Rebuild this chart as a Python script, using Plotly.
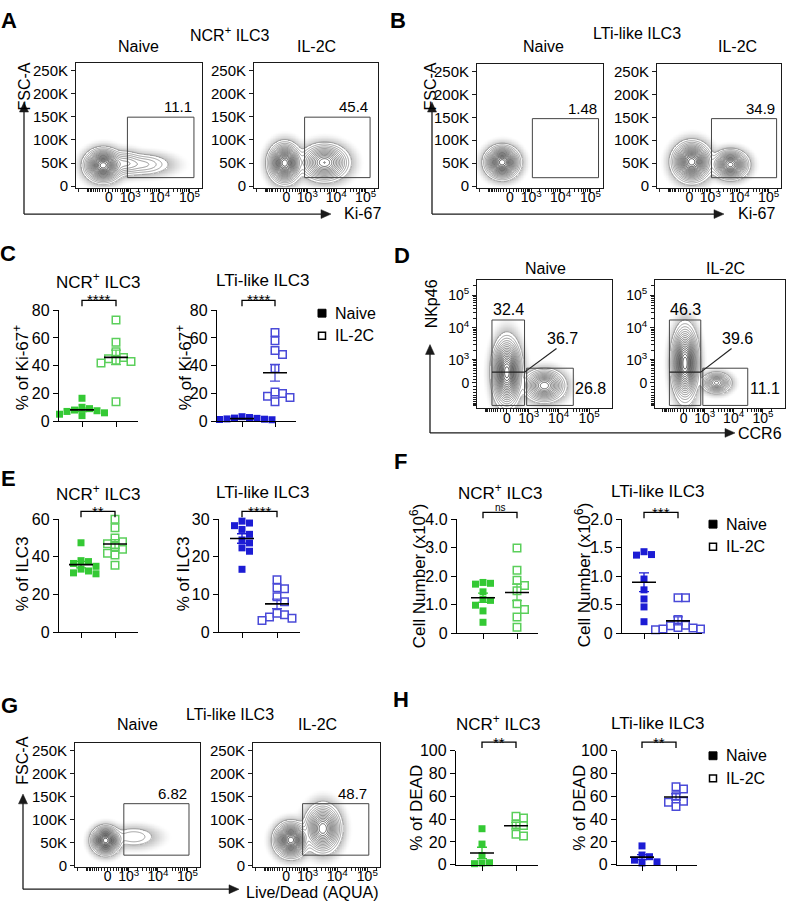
import numpy as np
import plotly.graph_objects as go

W, H = 787, 910
FONT = "Arial, Liberation Sans, sans-serif"

GREEN = '#34c934'
GREEN_OPEN = '#5bcf5b'
BLUE = '#1c1cd4'
BLUE_OPEN = '#4a4ad8'
INK = '#1a1a1a'

groups = ['Naive', 'IL-2C']

# C: % of Ki-67+
ki67_ncr_naive = [16.5, 10, 9, 8, 7.5, 7, 6, 5, 4]
ki67_ncr_il2c = [73, 57, 50, 46, 45, 44, 43, 42, 14]
ki67_lti_naive = [3.2, 2.6, 2.2, 2.0, 1.6, 1.4, 1.2, 1.0, 0.8]
ki67_lti_il2c = [64, 58, 51, 48, 38, 21, 20, 18, 17, 14]

# E: % of ILC3
pct_ncr_naive = [47.5, 38, 37.5, 36.5, 35, 33.5, 32.5, 31.5, 31]
pct_ncr_il2c = [60, 55.5, 50, 48, 47, 45.5, 44, 42, 41, 35.5]
pct_lti_naive = [29.5, 29, 28.3, 27.3, 26, 24.5, 23.7, 22.4, 21.5, 16.7]
pct_lti_il2c = [13.9, 11.8, 11.5, 9.4, 8.1, 5.0, 4.6, 4.0, 3.7, 3.1]

# F: cell number (x10^6)
num_ncr_naive = [1.78, 1.75, 1.72, 1.45, 1.18, 1.15, 0.98, 0.78, 0.38]
num_ncr_il2c = [2.99, 2.21, 1.86, 1.67, 1.49, 1.03, 0.83, 0.57, 0.21]
num_lti_naive = [1.43, 1.37, 1.38, 0.95, 0.76, 0.60, 0.46, 0.20]
num_lti_il2c = [0.62, 0.62, 0.24, 0.14, 0.13, 0.10, 0.09, 0.07, 0.06, 0.07]

# H: % of DEAD
dead_ncr_naive = [31.6, 18.1, 8.0, 1.7, 1.4, 0.9]
dead_ncr_il2c = [42.5, 41, 35.3, 34.5, 26.7, 25.3]
dead_lti_naive = [16.5, 8.5, 7, 4, 2.5, 1.5]
dead_lti_il2c = [68.4, 66.4, 60.6, 55.7, 54.9, 51.1]

# flow populations:
# (x marker median, y median, x spread (biex units), y spread, fraction of events)
ki67_ncr_naive_pops = [(-180, 45000, 0.25, 14000, 0.84), (650, 50000, 0.25, 12000, 0.07),
                       (2600, 47000, 0.45, 11000, 0.09)]
ki67_ncr_il2c_pops = [(-50, 50000, 0.22, 17000, 0.55), (3970, 51000, 0.33, 16000, 0.45)]
ki67_lti_naive_pops = [(-250, 52000, 0.23, 14000, 0.985)]
ki67_lti_il2c_pops = [(75, 53000, 0.26, 17000, 0.65), (5000, 47000, 0.24, 12500, 0.35)]
ccr6_naive_pops = [(0, 330, 0.19, 0.42, 0.70), (3400, -80, 0.27, 0.20, 0.27)]
ccr6_il2c_pops = [(40, 760, 0.18, 0.45, 0.86), (2600, 0, 0.20, 0.13, 0.11)]
aqua_naive_pops = [(-60, 54000, 0.19, 12000, 0.91), (1500, 62000, 0.38, 11000, 0.07)]
aqua_il2c_pops = [(150, 55000, 0.22, 15000, 0.5), (3300, 80000, 0.24, 21000, 0.5)]

# gate frequencies
ki67_ncr_freq = ['11.1', '45.4']
ki67_lti_freq = ['1.48', '34.9']
ccr6_freq = [('32.4', '36.7', '26.8'), ('46.3', '39.6', '11.1')]
aqua_freq = ['6.82', '48.7']

fsc_ticks = [0, 50000, 100000, 150000, 200000, 250000]
fsc_ticktext = ['0', '50K', '100K', '150K', '200K', '250K']
log_ticks = [0, 1e3, 1e4, 1e5]
log_ticktext = ['0', '10<sup>3</sup>', '10<sup>4</sup>', '10<sup>5</sup>']


def px(x):
    return x / W


def py(y):
    return 1 - y / H


COF = 400.0


def biex(v):
    return np.arcsinh(np.asarray(v, dtype=float) / COF) / np.log(10)


minor_raw = ([-k * 100 for k in range(1, 10)] + [-1000, -2000] + [k * 100 for k in range(1, 10)]
             + [k * 10 ** e for e in (3, 4) for k in range(2, 10)] + [2e5])

fig = go.Figure()
layout = dict(width=W, height=H, margin=dict(l=0, r=0, t=0, b=0),
              paper_bgcolor='white', plot_bgcolor='white', showlegend=False,
              font=dict(family=FONT, color='black'))
annotations = []
shapes = []


def text(x, y, s, size=16, xanchor='center', yanchor='middle', angle=0, bold=False,
         xref='paper', yref='paper'):
    if xref == 'paper':
        x = px(x)
    if yref == 'paper':
        y = py(y)
    annotations.append(dict(x=x, y=y, xref=xref, yref=yref, text=f'<b>{s}</b>' if bold else s,
                            showarrow=False, xanchor=xanchor, yanchor=yanchor, textangle=angle,
                            font=dict(family=FONT, size=size, color='black')))


def ids(i):
    s = '' if i == 1 else str(i)
    return 'xaxis' + s, 'yaxis' + s, 'x' + s, 'y' + s


def arrow_frame(cx, cy, top, right):
    shapes.append(dict(type='line', xref='paper', yref='paper', x0=px(cx), y0=py(cy),
                       x1=px(cx), y1=py(top + 9), line=dict(color=INK, width=1.3)))
    shapes.append(dict(type='line', xref='paper', yref='paper', x0=px(cx), y0=py(cy),
                       x1=px(right - 9), y1=py(cy), line=dict(color=INK, width=1.3)))
    up = f'M {px(cx)},{py(top)} L {px(cx - 4.5)},{py(top + 10)} L {px(cx + 4.5)},{py(top + 10)} Z'
    rt = f'M {px(right)},{py(cy)} L {px(right - 10)},{py(cy - 4.5)} L {px(right - 10)},{py(cy + 4.5)} Z'
    for p in (up, rt):
        shapes.append(dict(type='path', path=p, xref='paper', yref='paper',
                           fillcolor=INK, line=dict(color=INK, width=0.5)))


def flow_plot(i, box, pops, xr, yr, y_biex):
    l, t, r, b = box
    xa, ya, xn, yn = ids(i)
    maj = list(biex(log_ticks))
    minor = [m for m in biex(minor_raw) if xr[0] < m < xr[1]]
    axis_common = dict(showline=True, mirror=True, linecolor=INK, linewidth=1, ticks='outside',
                       ticklen=4, tickwidth=1, tickcolor=INK, showgrid=False, zeroline=False,
                       fixedrange=True)
    layout[xa] = dict(domain=[px(l), px(r)], range=xr, anchor=yn, tickmode='array',
                      tickvals=maj, ticktext=log_ticktext, ticklabelstandoff=-7,
                      tickfont=dict(size=14, family=FONT, color='black'),
                      minor=dict(tickmode='array', tickvals=minor, ticks='outside', ticklen=3,
                                 tickwidth=0.8, tickcolor=INK),
                      **axis_common)
    if y_biex:
        yminor = [m for m in biex(minor_raw) if yr[0] < m < yr[1]]
        layout[ya] = dict(domain=[py(b), py(t)], range=yr, anchor=xn, tickmode='array',
                          tickvals=maj, ticktext=log_ticktext,
                          tickfont=dict(size=14, family=FONT, color='black'),
                          minor=dict(tickmode='array', tickvals=yminor, ticks='outside',
                                     ticklen=3, tickwidth=0.8, tickcolor=INK),
                          **axis_common)
    else:
        layout[ya] = dict(domain=[py(b), py(t)], range=yr, anchor=xn, tickmode='array',
                          tickvals=fsc_ticks, ticktext=fsc_ticktext,
                          tickfont=dict(size=15, family=FONT, color='black'), **axis_common)

    gx = np.linspace(xr[0], xr[1], 200)
    gy = np.linspace(yr[0], yr[1], 200)
    X, Y = np.meshgrid(gx, gy)
    Z = np.zeros_like(X)
    for mx, my, sx, sy, w in pops:
        cx = biex(mx)
        cy = biex(my) if y_biex else my
        Z += w / (sx * sy) * np.exp(-0.5 * (((X - cx) / sx) ** 2 + ((Y - cy) / sy) ** 2))
    Z = Z / Z.max()
    # faint halo for the sparse events outside the outer contour
    lo, hi = 1e-4, 0.0121
    halo = np.where((Z > lo) & (Z < hi), (np.log(Z) - np.log(lo)) / (np.log(hi) - np.log(lo)), np.nan)
    fig.add_trace(go.Heatmap(
        x=gx, y=gy, z=halo, xaxis=xn, yaxis=yn, showscale=False, hoverinfo='skip',
        zmin=0, zmax=1, zsmooth='best',
        colorscale=[[0, 'rgba(255,255,255,0)'], [1, 'rgba(130,130,130,0.5)']],
    ))
    fig.add_trace(go.Contour(
        x=gx, y=gy, z=np.sqrt(Z), xaxis=xn, yaxis=yn, showscale=False, hoverinfo='skip',
        zmin=0.1, zmax=1.0,
        contours=dict(coloring='lines', start=0.11, end=0.97, size=0.05),
        colorscale=[[0, '#8c8c8c'], [0.5, '#585858'], [1, '#1e1e1e']],
        line=dict(width=0.8, smoothing=1.0),
    ))
    return xn, yn


def gate_rect(xn, yn, x0, x1, y0, y1):
    shapes.append(dict(type='rect', xref=xn, yref=yn, x0=x0, x1=x1, y0=y0, y1=y1,
                       line=dict(color='#444', width=1), layer='above'))


FSC_XR = [-1.1, 3.12]
FSC_YR = [-3000, 266000]
D_XR = [-0.98, 3.45]
D_YR = [-0.79, 3.18]

# ---------- A / B / G : FSC-A vs marker ----------
fsc_panels = [
    (1, (76, 56, 202, 183), ki67_ncr_naive_pops, ki67_ncr_freq[0], (790, 141700, 18500, 149000)),
    (2, (254, 56, 378, 183), ki67_ncr_il2c_pops, ki67_ncr_freq[1], (790, 141700, 18500, 149000)),
    (3, (477, 57, 603, 183), ki67_lti_naive_pops, ki67_lti_freq[0], (1100, 186800, 18500, 147000)),
    (4, (657, 57, 781, 183), ki67_lti_il2c_pops, ki67_lti_freq[1], (1100, 186800, 18500, 147000)),
    (7, (75, 749, 200, 875), aqua_naive_pops, aqua_freq[0], (650, 112000, 22000, 134000)),
    (8, (253, 749, 380, 875), aqua_il2c_pops, aqua_freq[1], (650, 112000, 22000, 134000)),
]
for i, box, pops, lab, g in fsc_panels:
    xn, yn = flow_plot(i, box, pops, FSC_XR, FSC_YR, False)
    gx0, gx1 = float(biex(g[0])), float(biex(g[1]))
    gate_rect(xn, yn, gx0, gx1, g[2], g[3])
    text(gx1, g[3], lab, size=15, xanchor='right', yanchor='bottom', xref=xn, yref=yn)

# ---------- D : NKp46 vs CCR6 ----------
tall = (-552, 708)
low_y, div_y, top_y = -960, 334, 17400
right = (848, 30300)
right_top = 493
for i, box, labs in [(5, (477, 277, 612, 408), ccr6_freq[0]), (6, (655, 277, 785, 408), ccr6_freq[1])]:
    pops = ccr6_naive_pops if i == 5 else ccr6_il2c_pops
    xn, yn = flow_plot(i, box, pops, D_XR, D_YR, True)
    tx0, tx1 = float(biex(tall[0])), float(biex(tall[1]))
    gate_rect(xn, yn, tx0, tx1, float(biex(low_y)), float(biex(top_y)))
    shapes.append(dict(type='line', xref=xn, yref=yn, x0=tx0, x1=tx1, y0=float(biex(div_y)),
                       y1=float(biex(div_y)), line=dict(color='#222', width=1.2)))
    rx0, rx1 = float(biex(right[0])), float(biex(right[1]))
    gate_rect(xn, yn, rx0, rx1, float(biex(low_y)), float(biex(right_top)))
    shapes.append(dict(type='line', xref=xn, yref=yn, x0=tx1, y0=float(biex(div_y)),
                       x1=float(biex(8500)), y1=float(biex(2290)), line=dict(color='#222', width=1.2)))
    text((tx0 + tx1) / 2, float(biex(top_y)), labs[0], size=16, yanchor='bottom', xref=xn, yref=yn)
    text(float(biex(13200)), float(biex(4580)), labs[1], size=16, xref=xn, yref=yn)
    text(rx1, float(biex(-170)), labs[2], size=16, xanchor='left', xref=xn, yref=yn)


# ---------- dot plots ----------
def swarm(vals, center, ppu_x, ppu_y, size=7.5):
    placed = []
    out = [0.0] * len(vals)
    order = sorted(range(len(vals)), key=lambda j: -vals[j])
    for j in order:
        yy = vals[j] * ppu_y
        dx = 0
        for k in (0, 1, -1, 2, -2, 3, -3, 4, -4):
            dx = k * size
            if all(abs(dx - qx) >= size or abs(yy - qy) >= size for qx, qy in placed):
                break
        placed.append((dx, yy))
        out[j] = center + dx / ppu_x
    return out


def dot_plot(i, box, ticks_px, ytop, ytickvals, yticktext, naive, il2c, color, color_open):
    l, t, r, b = box
    xa, ya, xn, yn = ids(i)
    p0, p1 = ticks_px
    s = p1 - p0
    common = dict(showline=True, linecolor='black', linewidth=1.4, ticks='outside', ticklen=5,
                  tickwidth=1.4, tickcolor='black', showgrid=False, zeroline=False, fixedrange=True)
    layout[xa] = dict(domain=[px(l), px(r)], range=[(l - p0) / s, (r - p0) / s], anchor=yn,
                      tickmode='array', tickvals=[0, 1], showticklabels=False, **common)
    layout[ya] = dict(domain=[py(b), py(t)], range=[0, ytop], anchor=xn, tickmode='array',
                      tickvals=ytickvals, ticktext=yticktext,
                      tickfont=dict(size=16, family=FONT, color='black'), **common)
    ppu_y = (b - t) / ytop
    for k, vals in enumerate([naive, il2c]):
        xs = swarm(vals, k, s, ppu_y)
        if k == 0:
            mk = dict(symbol='square', size=7, color=color, line=dict(width=0))
        else:
            mk = dict(symbol='square-open', size=7.5, color=color_open, line=dict(width=1.5))
        fig.add_trace(go.Scatter(x=xs, y=vals, mode='markers', marker=mk, xaxis=xn, yaxis=yn,
                                 cliponaxis=False, hoverinfo='skip', name=groups[k]))
    for k, vals in enumerate([naive, il2c]):
        v = np.asarray(vals, dtype=float)
        m = v.mean()
        sem = v.std(ddof=1) / np.sqrt(len(v))
        fig.add_trace(go.Scatter(x=[k], y=[m], mode='markers', xaxis=xn, yaxis=yn,
                                 marker=dict(size=1, color='rgba(0,0,0,0)'), cliponaxis=False,
                                 error_y=dict(type='data', array=[sem], width=5, thickness=1.3,
                                              color=color if k == 0 else color_open),
                                 hoverinfo='skip'))
        hw = 12 / s
        fig.add_trace(go.Scatter(x=[k - hw, k + hw], y=[m, m], mode='lines', xaxis=xn, yaxis=yn,
                                 line=dict(color='black', width=1.6), cliponaxis=False,
                                 hoverinfo='skip'))
    return xn


def bracket(xn, yb, stars, size=15, ydrop=6, star_y=None):
    shapes.append(dict(type='path', xref=xn, yref='paper',
                       path=f'M 0,{py(yb + ydrop)} L 0,{py(yb)} L 1,{py(yb)} L 1,{py(yb + ydrop)}',
                       line=dict(color='black', width=1.3)))
    annotations.append(dict(x=0.5, y=py(star_y), xref=xn, yref='paper', text=stars,
                            showarrow=False, xanchor='center', yanchor='middle',
                            font=dict(family=FONT, size=size, color='black')))


pct20 = [0, 20, 40, 60, 80]
xc1 = dot_plot(9, (59, 308, 138, 421), (82, 116), 80, pct20, [str(v) for v in pct20],
               ki67_ncr_naive, ki67_ncr_il2c, GREEN, GREEN_OPEN)
xc2 = dot_plot(10, (217, 308, 296, 421), (242, 275), 80, pct20, [str(v) for v in pct20],
               ki67_lti_naive, ki67_lti_il2c, BLUE, BLUE_OPEN)
e1t = [0, 20, 40, 60]
e2t = [0, 10, 20, 30]
xe1 = dot_plot(11, (59, 521, 138, 636), (81, 115), 60, e1t, [str(v) for v in e1t],
               pct_ncr_naive, pct_ncr_il2c, GREEN, GREEN_OPEN)
xe2 = dot_plot(12, (219, 521, 300, 636), (242, 277), 30, e2t, [str(v) for v in e2t],
               pct_lti_naive, pct_lti_il2c, BLUE, BLUE_OPEN)
xf1 = dot_plot(13, (457, 521, 538, 637), (483, 517), 4.0, [0, 1, 2, 3, 4],
               ['0', '1.0', '2.0', '3.0', '4.0'], num_ncr_naive, num_ncr_il2c, GREEN, GREEN_OPEN)
xf2 = dot_plot(14, (622, 521, 702, 637), (644, 678), 2.0, [0, 0.5, 1, 1.5, 2],
               ['0', '0.5', '1.0', '1.5', '2.0'], num_lti_naive, num_lti_il2c, BLUE, BLUE_OPEN)
h_t = [0, 20, 40, 60, 80, 100]
xh1 = dot_plot(15, (456, 757, 538, 873), (482, 516), 100, h_t, [str(v) for v in h_t],
               dead_ncr_naive, dead_ncr_il2c, GREEN, GREEN_OPEN)
xh2 = dot_plot(16, (617, 757, 697, 873), (642, 676), 100, h_t, [str(v) for v in h_t],
               dead_lti_naive, dead_lti_il2c, BLUE, BLUE_OPEN)

bracket(xc1, 298, '****', star_y=297.5)
bracket(xc2, 298, '****', star_y=297.5)
bracket(xe1, 513, '**', star_y=513.5)
bracket(xe2, 513, '****', star_y=513.5)
bracket(xf1, 514, 'ns', size=10, star_y=509)
bracket(xf2, 514, '***', star_y=514)
bracket(xh1, 748, '**', star_y=748.5)
bracket(xh2, 748, '**', star_y=748.5)

# ---------- texts ----------
for s, x, y in [('A', 9, 13), ('B', 398, 13), ('C', 8, 250), ('D', 402, 252),
                ('E', 8, 479), ('F', 400, 462), ('G', 9, 711), ('H', 401, 705)]:
    text(x, y, s, size=22, bold=True)

NCR = 'NCR<sup>+</sup> ILC3'
LTI = 'LTi-like ILC3'
text(230, 26, NCR, size=16)
text(138, 39, groups[0])
text(316, 39, groups[1])
text(637, 26, LTI, size=16)
text(543, 39, groups[0])
text(737, 39, groups[1])
text(545, 265, groups[0])
text(725, 265, groups[1])
text(230, 720, LTI, size=16)
text(137, 730, groups[0])
text(317, 730, groups[1])

for x, y, s in [(98, 278, NCR), (263, 278, LTI), (98, 494, NCR), (263, 494, LTI),
                (500, 493, NCR), (658, 493, LTI), (498, 729, NCR), (658, 729, LTI)]:
    text(x, y, s, size=17)

for x, y, s in [(21, 367, '% of Ki-67<sup>+</sup>'), (184, 367, '% of Ki-67<sup>+</sup>'),
                (22, 577, '% of ILC3'), (183, 577, '% of ILC3'),
                (418, 578, 'Cell Number (x10<sup>6</sup>)'), (583, 578, 'Cell Number (x10<sup>6</sup>)'),
                (417, 815, '% of DEAD'), (580, 815, '% of DEAD')]:
    text(x, y, s, size=17, angle=-90)

# arrow frames of the flow plots
arrow_frame(24, 210, 96, 331)
arrow_frame(432, 210, 96, 724)
arrow_frame(430, 433, 343, 735)
arrow_frame(23, 898, 801, 239)
text(25, 80, 'FSC-A', angle=-90)
text(431, 80, 'FSC-A', angle=-90)
text(431, 302, 'NKp46', angle=-90)
text(23, 767, 'FSC-A', angle=-90)
text(342, 209, 'Ki-67', xanchor='left')
text(736, 209, 'Ki-67', xanchor='left')
text(736, 434, 'CCR6', xanchor='left')
text(244, 901, 'Live/Dead (AQUA)', xanchor='left')

# legends
for cx, cy in [(322, 311), (713, 526), (713, 762)]:
    shapes.append(dict(type='rect', xref='paper', yref='paper', x0=px(cx - 4), x1=px(cx + 4),
                       y0=py(cy + 4), y1=py(cy - 4), fillcolor='black', line=dict(color='black', width=1)))
    shapes.append(dict(type='rect', xref='paper', yref='paper', x0=px(cx - 3.5), x1=px(cx + 3.5),
                       y0=py(cy + 23 + 3.5), y1=py(cy + 23 - 3.5), fillcolor='white',
                       line=dict(color='black', width=1.5)))
    text(cx + 11, cy, groups[0], size=16, xanchor='left')
    text(cx + 11, cy + 23, groups[1], size=16, xanchor='left')

layout['annotations'] = annotations
layout['shapes'] = shapes
fig.update_layout(**layout)
fig.write_html("out.html", config={'displayModeBar': False},
               post_script="document.body.style.margin='0px';")
